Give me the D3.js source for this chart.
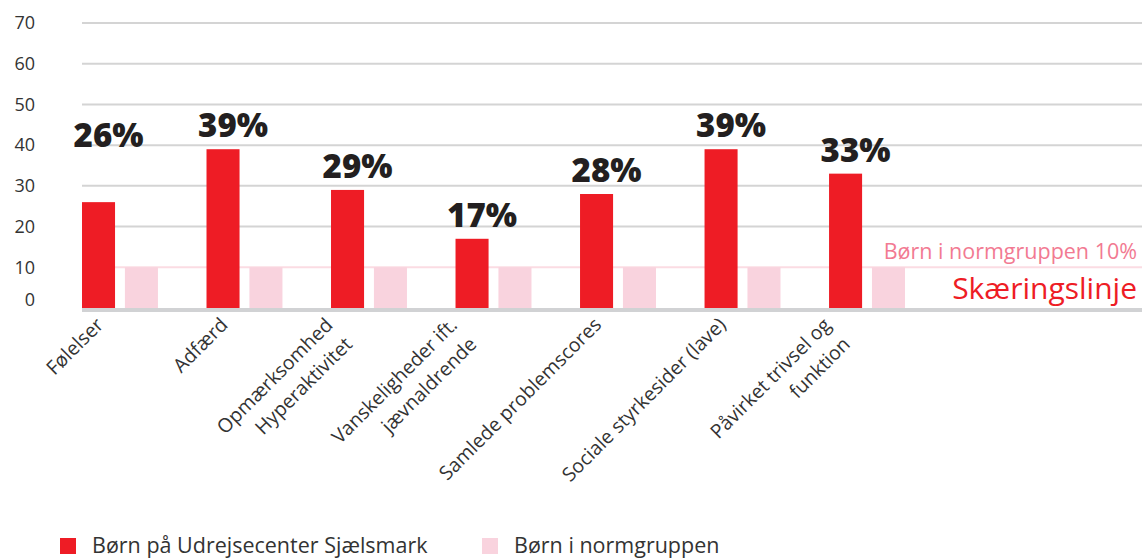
<!DOCTYPE html>
<html>
<head>
<meta charset="utf-8">
<script src="https://cdn.jsdelivr.net/npm/d3@7"></script>
<style>
  body { margin: 0; background: #fff; }
  text { font-family: "Open Sans", sans-serif; }
</style>
</head>
<body>
<div id="chart"></div>
<script>
// data
const categories = [
  "Følelser",
  "Adfærd",
  "Opmærksomhed\nHyperaktivitet",
  "Vanskeligheder ift.\njævnaldrende",
  "Samlede problemscores",
  "Sociale styrkesider (lave)",
  "Påvirket trivsel og\nfunktion"
];
const udrejse = [26, 39, 29, 17, 28, 39, 33];
const normgruppe = [10, 10, 10, 10, 10, 10, 10];
const seriesNames = ["Børn på Udrejsecenter Sjælsmark", "Børn i normgruppen"];
const yTicks = [0, 10, 20, 30, 40, 50, 60, 70];
const cutoff = 10;

var W = 1142, H = 559;
var RED = "#ee1c25", PINK = "#f9d3de";

var svg = d3.select("#chart").append("svg")
  .attr("width", W).attr("height", H);

var y = d3.scaleLinear().domain([0, 70]).range([308, 23]);

var x = d3.scaleBand()
  .domain(categories)
  .range([82, 905])
  .paddingInner(0.39)
  .paddingOuter(0)
  .align(0);

var xSub = d3.scaleBand()
  .domain(seriesNames)
  .range([0, x.bandwidth()])
  .paddingInner(0.23);

// grid
svg.append("g").selectAll("line")
  .data(yTicks.filter(t => t > 0 && t != cutoff))
  .enter().append("line")
  .attr("x1", 82).attr("x2", W)
  .attr("y1", d => y(d)).attr("y2", d => y(d))
  .attr("stroke", "#d4d4d4").attr("stroke-width", 2);

// cut-off line
svg.append("line")
  .attr("x1", 82).attr("x2", W)
  .attr("y1", y(cutoff)).attr("y2", y(cutoff))
  .attr("stroke", "#fbdce3").attr("stroke-width", 2);

// y tick labels
svg.append("g").selectAll("text")
  .data(yTicks)
  .enter().append("text")
  .attr("x", 35)
  .attr("y", d => d == 0 ? y(d) - 8 : y(d))
  .attr("dy", "0.35em")
  .attr("text-anchor", "end")
  .attr("font-size", 18)
  .attr("fill", "#333")
  .text(d => d);

// bars
var groups = svg.append("g").selectAll("g")
  .data(categories)
  .enter().append("g")
  .attr("transform", d => "translate(" + x(d) + ",0)");

groups.append("rect")
  .attr("x", xSub(seriesNames[0]))
  .attr("width", xSub.bandwidth())
  .attr("y", (d, i) => y(udrejse[i]))
  .attr("height", (d, i) => y(0) - y(udrejse[i]))
  .attr("fill", RED);

groups.append("rect")
  .attr("x", xSub(seriesNames[1]))
  .attr("width", xSub.bandwidth())
  .attr("y", (d, i) => y(normgruppe[i]))
  .attr("height", (d, i) => y(0) - y(normgruppe[i]))
  .attr("fill", PINK);

// baseline
svg.append("line")
  .attr("x1", 82).attr("x2", W)
  .attr("y1", y(0) + 2).attr("y2", y(0) + 2)
  .attr("stroke", "#d1d2d4").attr("stroke-width", 4);

// value labels (first one sits higher in the original)
var labelRaise = [43, 0, 0, 0, 0, 0, 0];
groups.append("text")
  .attr("x", xSub(seriesNames[0]) + xSub.bandwidth() / 2 + 10)
  .attr("y", (d, i) => y(udrejse[i]) - 12 - labelRaise[i])
  .attr("text-anchor", "middle")
  .attr("font-size", 33)
  .attr("font-weight", 800)
  .attr("fill", "#231f20")
  .text((d, i) => udrejse[i] + "%");

// category labels, rotated; two-line labels are centred on the tick
groups.append("text")
  .attr("transform", "translate(" + (xSub(seriesNames[0]) + xSub.bandwidth() / 2 + 6) + ",326) rotate(-45)")
  .attr("text-anchor", "end")
  .attr("font-size", 19.5)
  .attr("fill", "#333")
  .each(function(d) {
    var lines = d.split("\n");
    d3.select(this).selectAll("tspan")
      .data(lines)
      .enter().append("tspan")
      .attr("x", lines.length > 1 ? -14 : 0)
      .attr("dy", (l, i) => i == 0 ? -(lines.length - 1) * 0.7 + "em" : "1.4em")
      .text(l => l);
  });

// annotation at the cut-off
svg.append("text")
  .attr("x", 1137).attr("y", 259)
  .attr("text-anchor", "end")
  .attr("font-size", 21.5)
  .attr("fill", "#f27a92")
  .text("Børn i normgruppen " + cutoff + "%");

svg.append("text")
  .attr("x", 1137).attr("y", 299)
  .attr("text-anchor", "end")
  .attr("font-size", 30)
  .attr("fill", RED)
  .text("Skæringslinje");

// legend
var legendX = [60, 482];
var leg = svg.append("g").selectAll("g")
  .data(seriesNames)
  .enter().append("g")
  .attr("transform", (d, i) => "translate(" + legendX[i] + ",538)");

leg.append("rect")
  .attr("width", 16).attr("height", 16)
  .attr("fill", (d, i) => i == 0 ? RED : PINK);

leg.append("text")
  .attr("x", 32).attr("y", 15)
  .attr("font-size", 21.5)
  .attr("fill", "#333")
  .text(d => d);
</script>
</body>
</html>
